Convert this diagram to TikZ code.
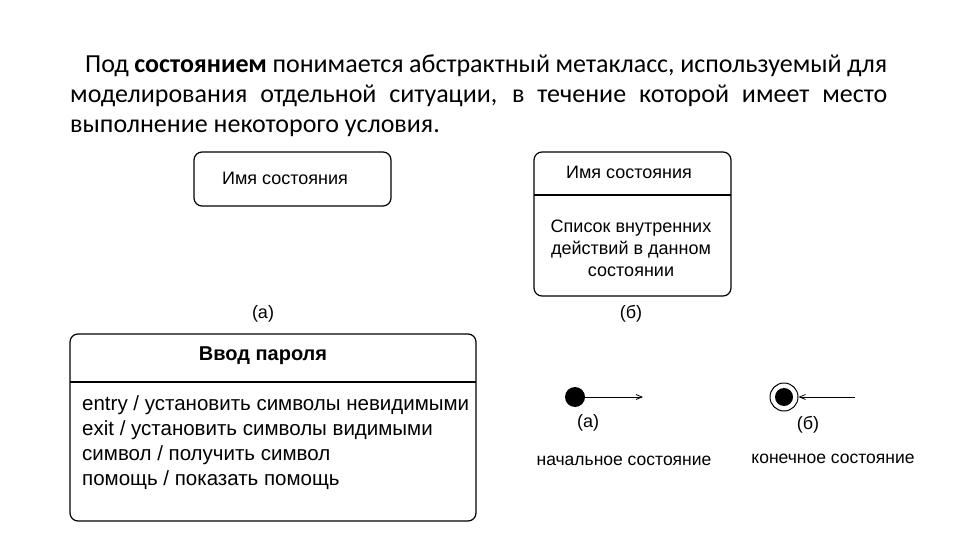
\documentclass[tikz,border=0pt]{standalone}
\usepackage{fontspec}
\setmainfont{Carlito}
\newfontfamily\dfont{Liberation Sans}
\usetikzlibrary{arrows.meta}
\begin{document}
\begin{tikzpicture}[x=1pt,y=-1pt,
  box/.style={draw,line width=1.2pt,rounded corners=8pt},
  lbl/.style={font=\dfont\fontsize{18}{22}\selectfont,inner sep=0pt},
  arr/.style={line width=0.8pt,-{Straight Barb[length=6pt,width=5pt]}}]
\useasboundingbox (0,0) rectangle (960,540);
\node[anchor=north west,inner sep=0pt,text width=817pt,align=justify,font=\fontsize{26}{30}\selectfont] (para) at (70,55)
{\hspace*{15pt}Под \textbf{состоянием} понимается абстрактный метакласс, используемый для моделирования отдельной ситуации, в течение которой имеет место выполнение некоторого условия.};
% (a)
\draw[box] (194,152) rectangle (391,206);
\node[lbl] (na) at (285,178) {Имя состояния};
\node[lbl] (la) at (263,314) {(а)};
% (б)
\draw[box] (534,152) rectangle (731,296);
\draw[line width=1.2pt] (534,195) -- (731,195);
\node[lbl] (nb) at (629,172) {Имя состояния};
\node[lbl,align=center,font=\dfont\fontsize{18}{22}\selectfont] (bb) at (631,248) {Список внутренних\\действий в данном\\состоянии};
\node[lbl] (lb) at (631,314) {(б)};
% big box
\draw[box] (70,334) rectangle (476,521);
\draw[line width=1.2pt] (70,382) -- (476,382);
\node[lbl,font=\dfont\bfseries\fontsize{20}{24}\selectfont] (t) at (263,356) {Ввод пароля};
\node[lbl,anchor=north west,align=left,font=\dfont\fontsize{20.5}{25}\selectfont] (body) at (82,395)
{entry / установить символы невидимыми\\exit / установить символы видимыми\\символ / получить символ\\помощь / показать помощь};
% initial
\node[circle,fill=black,minimum size=20pt,inner sep=0pt] (init) at (575,397) {};
\coordinate (ie) at (643,397);
\draw[arr] (init) -- (ie);
\node[lbl] (ia) at (588,423) {(а)};
\node[lbl,font=\dfont\fontsize{17.5}{20}\selectfont] (ic) at (624,461) {начальное состояние};
% final
\node[circle,draw,line width=1pt,minimum size=28pt,inner sep=0pt] (fin) at (784,397) {};
\node[circle,fill=black,minimum size=18pt,inner sep=0pt] (fin2) at (784,397) {};
\coordinate (fs) at (855,397);
\draw[arr] (fs) -- (fin);
\node[lbl] (fb) at (808,425) {(б)};
\node[lbl,font=\dfont\fontsize{17.5}{20}\selectfont] (fc) at (833,459) {конечное состояние};
\end{tikzpicture}
\end{document}
